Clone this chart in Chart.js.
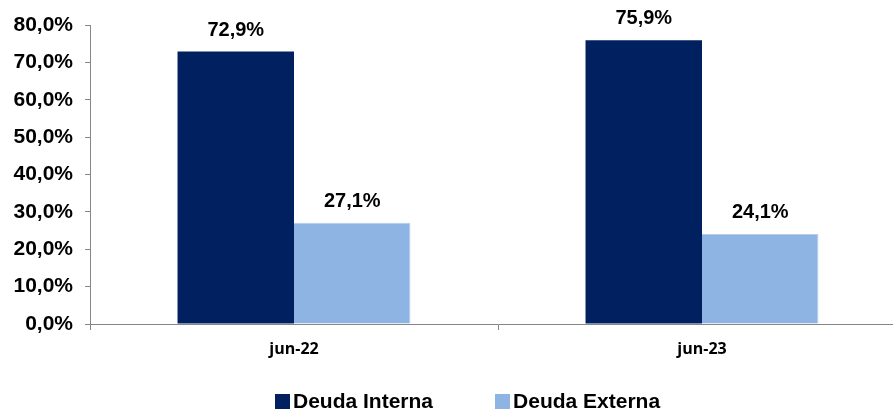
<!DOCTYPE html>
<html>
<head>
<meta charset="utf-8">
<script src="https://cdn.jsdelivr.net/npm/chart.js@4/dist/chart.umd.min.js"></script>
<style>
    html, body { margin: 0; padding: 0; background: #ffffff; overflow: hidden; }
    #chart-container { position: relative; width: 893px; height: 409px; overflow: hidden; }
    #debt-canvas { position: absolute; left: 0; top: 0; }
    #debt-legend {
        position: absolute; left: 275px; top: 391px;
        display: flex; gap: 62px;
        font: bold 21px/20px "Liberation Sans", Arial, sans-serif; color: #000000;
    }
    .legend-item { display: flex; align-items: center; white-space: nowrap; }
    .legend-box { width: 15px; height: 15px; margin-right: 3px; }
</style>
</head>
<body>
<div id="chart-container">
    <canvas id="debt-canvas" width="906" height="409"></canvas>
    <div id="debt-legend"></div>
</div>
<script>
const PERIODS = ['jun-22', 'jun-23'];
const SERIES_NAMES = ['Deuda Interna', 'Deuda Externa'];
const DEUDA_INTERNA = [72.9, 75.9];
const DEUDA_EXTERNA = [27.1, 24.1];
const Y_TICKS = [0, 10, 20, 30, 40, 50, 60, 70, 80];

const AXIS_COLOR = '#868686';
const DARK_BLUE = '#002060';
const LIGHT_BLUE = '#8DB4E2';

function pct(v) {
    return v.toFixed(1).replace('.', ',') + '%';
}

// labels above each bar
const barLabels = {
    id: 'barLabels',
    afterDatasetsDraw(chart) {
        let ctx = chart.ctx;
        ctx.save();
        ctx.font = 'bold 20px "Liberation Sans", Arial, sans-serif';
        ctx.fillStyle = '#000000';
        ctx.textAlign = 'center';
        ctx.textBaseline = 'alphabetic';
        chart.data.datasets.forEach(function (ds, d) {
            let meta = chart.getDatasetMeta(d);
            meta.data.forEach(function (bar, i) {
                ctx.fillText(pct(ds.data[i]), bar.x, bar.y - 16);
            });
        });
        ctx.restore();
    }
};

function buildLegend(chart) {
    let legendContainer = document.getElementById('debt-legend');
    legendContainer.innerHTML = '';
    chart.data.datasets.forEach(function (ds) {
        let item = document.createElement('div');
        item.className = 'legend-item';
        let box = document.createElement('span');
        box.className = 'legend-box';
        box.style.backgroundColor = ds.backgroundColor;
        let text = document.createElement('span');
        text.innerText = ds.label;
        item.appendChild(box);
        item.appendChild(text);
        legendContainer.appendChild(item);
    });
}

let canvas = document.getElementById('debt-canvas');

const config = {
    type: 'bar',
    data: {
        labels: PERIODS,
        datasets: [
            {
                label: SERIES_NAMES[0],
                data: DEUDA_INTERNA,
                backgroundColor: DARK_BLUE,
                borderWidth: 0,
                barPercentage: 1.0,
                categoryPercentage: 0.571
            },
            {
                label: SERIES_NAMES[1],
                data: DEUDA_EXTERNA,
                backgroundColor: LIGHT_BLUE,
                borderColor: '#B4CDEB',
                borderWidth: { right: 1, top: 1 },
                barPercentage: 1.0,
                categoryPercentage: 0.571
            }
        ]
    },
    options: {
        responsive: false,
        animation: false,
        layout: {
            padding: { left: 0, right: 0, top: 25, bottom: 0 }
        },
        scales: {
            x: {
                grid: {
                    offset: true,
                    drawOnChartArea: false,
                    tickLength: 6,
                    color: AXIS_COLOR
                },
                border: { color: AXIS_COLOR, width: 1 },
                ticks: {
                    color: '#000000',
                    padding: 10,
                    font: { family: '"Open Sans", sans-serif', size: 16, weight: 'bold' }
                },
                afterFit: function (scale) { scale.height = 85; }
            },
            y: {
                min: 0,
                max: 80,
                afterBuildTicks: function (scale) {
                    scale.ticks = Y_TICKS.map(v => ({ value: v }));
                },
                grid: {
                    drawOnChartArea: false,
                    tickLength: 5,
                    color: AXIS_COLOR
                },
                border: { color: AXIS_COLOR, width: 1 },
                ticks: {
                    color: '#000000',
                    padding: 12,
                    font: { family: '"Liberation Sans", Arial, sans-serif', size: 21, weight: 'bold' },
                    callback: function (value) { return pct(value); }
                },
                afterFit: function (scale) { scale.width = 90; }
            }
        },
        plugins: {
            legend: { display: false },
            tooltip: { enabled: false }
        }
    },
    plugins: [barLabels]
};

var debtGraph = new Chart(canvas, config);
buildLegend(debtGraph);
</script>
</body>
</html>
